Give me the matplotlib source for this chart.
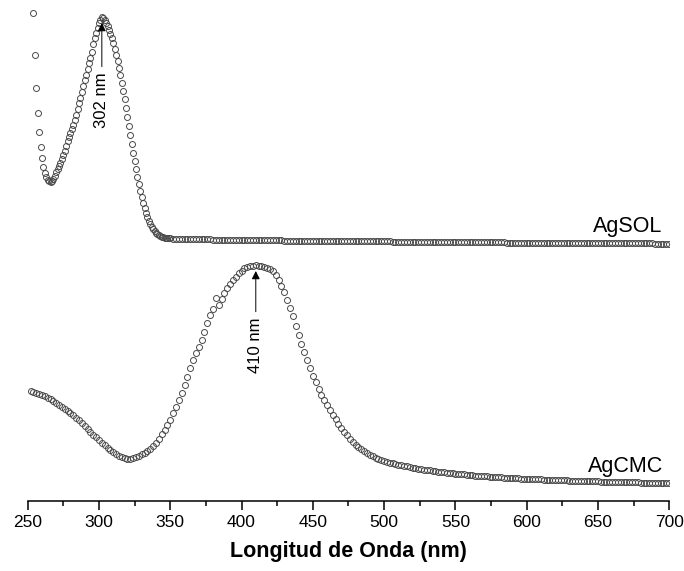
import numpy as np
import matplotlib
matplotlib.use('Agg')
from matplotlib import pyplot as plt

plt.rcParams['font.family'] = ['Liberation Sans', 'DejaVu Sans']

# AgSOL: 1 nm steps 254-350, then 2 nm steps 352-700
sol_nm_a = np.arange(254, 351, 1)
sol_abs_a = [4.89, 4.47, 4.14, 3.89, 3.70, 3.55, 3.44, 3.35, 3.29, 3.25,
             3.22, 3.21, 3.20, 3.21, 3.23, 3.26, 3.30, 3.33, 3.36, 3.39,
             3.43, 3.47, 3.51, 3.56, 3.61, 3.65, 3.69, 3.73, 3.77, 3.82,
             3.87, 3.93, 3.99, 4.04, 4.10, 4.16, 4.22, 4.27, 4.33, 4.39,
             4.44, 4.50, 4.58, 4.64, 4.69, 4.74, 4.79, 4.82, 4.85, 4.84,
             4.82, 4.79, 4.76, 4.72, 4.68, 4.64, 4.59, 4.53, 4.47, 4.41,
             4.34, 4.27, 4.19, 4.11, 4.03, 3.94, 3.85, 3.76, 3.67, 3.58,
             3.49, 3.41, 3.33, 3.25, 3.18, 3.11, 3.05, 2.99, 2.94, 2.89,
             2.85, 2.81, 2.78, 2.75, 2.73, 2.71, 2.69, 2.68, 2.67, 2.66,
             2.655, 2.65, 2.645, 2.642, 2.64, 2.638, 2.637]
sol_nm_b = np.arange(352, 701, 2)
sol_abs_b = [2.635, 2.634, 2.633, 2.632, 2.632, 2.631, 2.630, 2.630, 2.629, 2.628,
             2.628, 2.627, 2.626, 2.626, 2.625, 2.624, 2.624, 2.623, 2.623, 2.622,
             2.622, 2.621, 2.621, 2.620, 2.620,
             2.620, 2.620, 2.619, 2.619, 2.619, 2.618, 2.618, 2.618, 2.617, 2.617,
             2.617, 2.616, 2.616, 2.616, 2.615, 2.615, 2.615, 2.614, 2.614, 2.614,
             2.614, 2.613, 2.613, 2.613, 2.612, 2.612, 2.612, 2.612, 2.611, 2.611,
             2.611, 2.611, 2.610, 2.610, 2.610, 2.610, 2.609, 2.609, 2.609, 2.609,
             2.608, 2.608, 2.608, 2.608, 2.607, 2.607, 2.607, 2.607, 2.606, 2.606,
             2.606, 2.606, 2.605, 2.605, 2.605, 2.605, 2.604, 2.604, 2.604, 2.604,
             2.603, 2.603, 2.603, 2.603, 2.602, 2.602, 2.602, 2.602, 2.601, 2.601,
             2.601, 2.601, 2.600, 2.600, 2.600, 2.600, 2.599, 2.599, 2.599, 2.599,
             2.598, 2.598, 2.598, 2.598, 2.597, 2.597, 2.597, 2.597, 2.596, 2.596,
             2.596, 2.596, 2.595, 2.595, 2.595, 2.595, 2.594, 2.594, 2.594, 2.594,
             2.593, 2.593, 2.593, 2.593, 2.592, 2.592, 2.592, 2.592, 2.592, 2.591,
             2.591, 2.591, 2.591, 2.591, 2.590, 2.590, 2.590, 2.590, 2.590, 2.590,
             2.589, 2.589, 2.589, 2.589, 2.589, 2.589, 2.588, 2.588, 2.588, 2.588,
             2.588, 2.588, 2.587, 2.587, 2.587, 2.587, 2.587, 2.587, 2.586, 2.586,
             2.586, 2.586, 2.586, 2.586, 2.585, 2.585, 2.585, 2.585, 2.585, 2.585]

# AgCMC: 2 nm steps 252-700
cmc_nm = np.arange(252, 701, 2)
cmc_abs = [1.110, 1.105, 1.095, 1.085, 1.070, 1.060, 1.045, 1.030, 1.015, 0.995,
           0.975, 0.955, 0.935, 0.915, 0.895, 0.870, 0.845, 0.820, 0.795, 0.765,
           0.735, 0.705, 0.675, 0.650, 0.620, 0.595, 0.570, 0.545, 0.520, 0.500,
           0.480, 0.465, 0.450, 0.440, 0.435, 0.433, 0.440, 0.450, 0.465, 0.480,
           0.495, 0.510, 0.535, 0.560, 0.595, 0.635, 0.680, 0.725, 0.775, 0.825,
           0.890, 0.950, 1.020, 1.090, 1.170, 1.250, 1.340, 1.420, 1.490, 1.550,
           1.620, 1.700, 1.790, 1.870, 1.930, 2.040, 1.970, 2.030, 2.090, 2.140,
           2.180, 2.220, 2.250, 2.290, 2.310, 2.340, 2.350, 2.360, 2.365, 2.370,
           2.365, 2.360, 2.350, 2.345, 2.330, 2.310, 2.270, 2.220, 2.160, 2.100,
           2.020, 1.940, 1.860, 1.760, 1.670, 1.580, 1.500, 1.420, 1.340, 1.260,
           1.200, 1.130, 1.070, 1.020, 0.970, 0.920, 0.870, 0.830, 0.780, 0.740,
           0.700, 0.670, 0.630, 0.600, 0.570, 0.550, 0.530, 0.510, 0.490, 0.470,
           0.460, 0.445, 0.430, 0.420, 0.410, 0.402, 0.395, 0.388, 0.381, 0.375,
           0.369, 0.363, 0.357, 0.351, 0.345, 0.340, 0.335, 0.330, 0.325, 0.320,
           0.316, 0.312, 0.308, 0.304, 0.300, 0.297, 0.294, 0.291, 0.288, 0.285,
           0.282, 0.279, 0.276, 0.273, 0.270, 0.268, 0.265, 0.263, 0.260, 0.258,
           0.256, 0.254, 0.252, 0.250, 0.248, 0.246, 0.245, 0.243, 0.242, 0.240,
           0.238, 0.237, 0.235, 0.234, 0.232, 0.231, 0.230, 0.228, 0.227, 0.226,
           0.225, 0.224, 0.222, 0.221, 0.220, 0.219, 0.218, 0.217, 0.216, 0.215,
           0.214, 0.213, 0.212, 0.211, 0.210, 0.209, 0.208, 0.207, 0.206, 0.206,
           0.205, 0.204, 0.203, 0.203, 0.202, 0.201, 0.200, 0.200, 0.199, 0.198,
           0.198, 0.197, 0.196, 0.196, 0.195, 0.194, 0.194, 0.193, 0.193, 0.192,
           0.192, 0.191, 0.191, 0.190, 0.190]

sol_nm = np.concatenate([sol_nm_a, sol_nm_b])
sol_abs = np.array(sol_abs_a + sol_abs_b)

fig = plt.figure(figsize=(6.84, 5.71), dpi=100)
ax = fig.add_axes([27.7 / 684, 70 / 571, 641.5 / 684, 501 / 571])

mk = dict(ls='none', marker='o', ms=4.3, mfc='none', mec='#4a4a4a', mew=0.7)
ax.plot(sol_nm, sol_abs, **mk)
ax.plot(cmc_nm, cmc_abs, **mk)

ax.set_xlim(250, 700)
ax.set_ylim(0.01, 5.02)
ax.set_xticks(np.arange(250, 701, 50))
ax.set_xticks(np.arange(275, 700, 50), minor=True)
ax.set_yticks([])
for s in ['left', 'right', 'top']:
    ax.spines[s].set_visible(False)
ax.spines['bottom'].set_linewidth(1.1)
ax.tick_params(axis='x', which='major', length=6.5, width=1.1, labelsize=12.5, pad=3.5)
ax.tick_params(axis='x', which='minor', length=3.6, width=1.1)
ax.set_xlabel('Longitud de Onda (nm)', fontsize=15.5, fontweight='bold', labelpad=8)

ax.text(695.5, 2.697, 'AgSOL', fontsize=15.5, ha='right', va='baseline')
ax.text(695.5, 0.303, 'AgCMC', fontsize=15.5, ha='right', va='baseline')

arr = dict(arrowstyle='-|>', color='black', lw=0.7, mutation_scale=12, shrinkA=2, shrinkB=0)
ax.annotate('302 nm', xy=(302, 4.79), xytext=(302, 4.02), rotation=90,
            ha='center', va='center', fontsize=12, arrowprops=arr)
ax.annotate('410 nm', xy=(410, 2.31), xytext=(410, 1.57), rotation=90,
            ha='center', va='center', fontsize=12, arrowprops=arr)

fig.savefig('out.png', dpi=100)
